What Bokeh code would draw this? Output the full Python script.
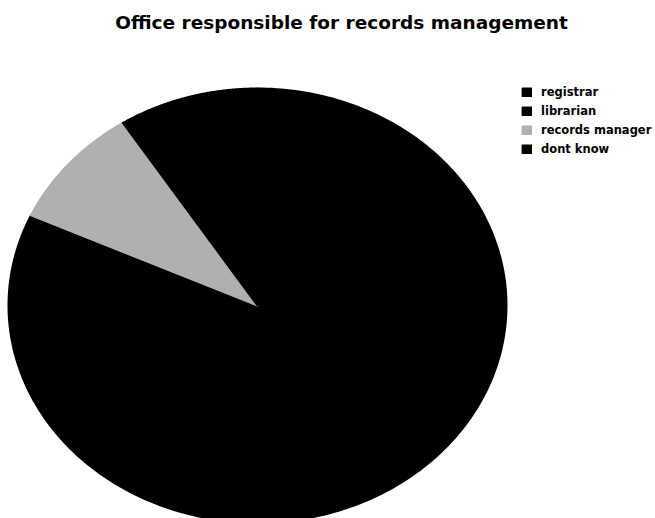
import numpy as np
from bokeh.plotting import figure
from bokeh.models import ColumnDataSource, Range1d, Label, Legend, LegendItem
from bokeh.embed import file_html
from bokeh.resources import INLINE

# ---- data ----
categories = ["registrar", "librarian", "records manager", "dont know"]
counts = [8, 1, 1, 1]
colors = ["#000000", "#000000", "#b0b0b0", "#000000"]
title_text = "Office responsible for records management"

# ---- layout ----
W, H = 655, 518
cx, cy = 257, 305      # pie centre in pixels (from left / top)
rx, ry = 249, 217      # pie radii in pixels

p = figure(width=W, height=H, output_backend="svg", toolbar_location=None,
           x_range=Range1d(-cx / rx, (W - cx) / rx),
           y_range=Range1d(-(H - cy) / ry, cy / ry),
           min_border=0, min_border_left=0, min_border_right=0,
           min_border_top=0, min_border_bottom=0)
p.axis.visible = False
p.grid.visible = False
p.outline_line_color = None
p.background_fill_color = "white"
p.border_fill_color = "white"

total = float(sum(counts))
fracs = np.array(counts) / total
ends = np.pi / 2 - 2 * np.pi * np.cumsum(fracs)
starts = np.concatenate([[np.pi / 2], ends[:-1]])

xs, ys = [], []
for a0, a1 in zip(starts, ends):
    t = np.linspace(a0, a1, 240)
    xs.append(np.concatenate([[0.0], np.cos(t), [0.0]]))
    ys.append(np.concatenate([[0.0], np.sin(t), [0.0]]))

src = ColumnDataSource(dict(xs=xs, ys=ys, color=colors, label=categories))
r = p.patches("xs", "ys", source=src, fill_color="color", line_color="color",
              line_width=2, line_join="round")

items = [LegendItem(label=c, renderers=[r], index=i) for i, c in enumerate(categories)]
legend = Legend(items=items, location=(521, H - 157),
                glyph_width=11, glyph_height=10, label_height=16, spacing=3,
                padding=0, margin=0, border_line_color=None,
                background_fill_alpha=0,
                label_text_font="DejaVu Sans", label_text_font_style="bold",
                label_text_font_size="11.5px", label_standoff=9,
                label_text_color="black")
p.add_layout(legend, "center")

p.add_layout(Label(x=341, y=H - 22, x_units="screen", y_units="screen",
                   text=title_text, text_align="center", text_baseline="middle",
                   text_font="DejaVu Sans", text_font_style="bold",
                   text_font_size="18.5px", text_color="black"))

open("out.html", "w").write(file_html(p, INLINE))
